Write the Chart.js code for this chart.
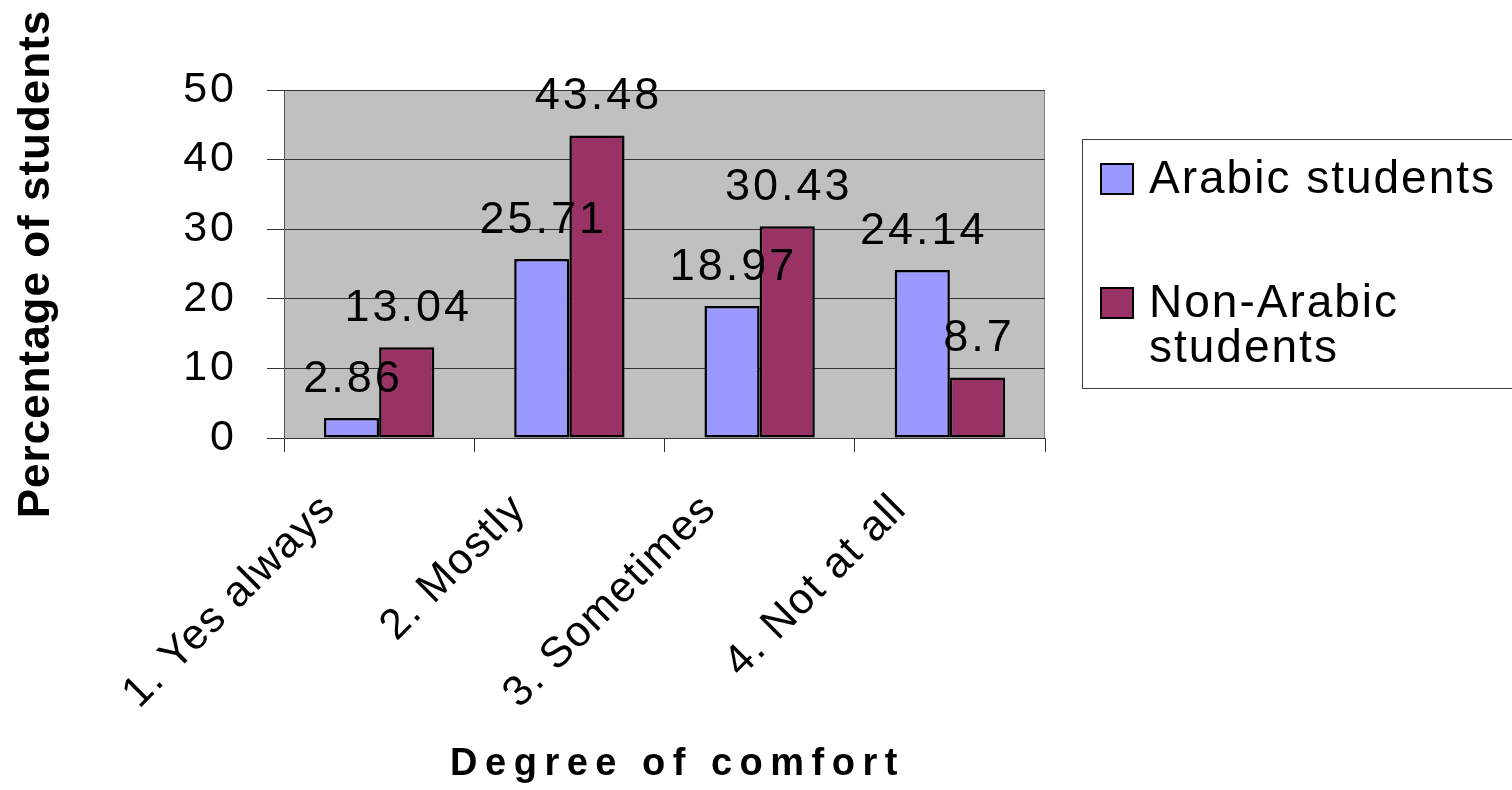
<!DOCTYPE html>
<html>
<head>
<meta charset="utf-8">
<script src="https://cdn.jsdelivr.net/npm/chart.js@4/dist/chart.umd.min.js"></script>
<style>
  html, body { margin: 0; padding: 0; background: #ffffff; }
  #wrap { width: 1512px; height: 790px; position: relative; }
</style>
</head>
<body>
<div id="wrap"><canvas id="chart" width="1512" height="790"></canvas></div>
<script>
// Survey results: degree of comfort, percentage of students per group
const categories = ['1. Yes always', '2. Mostly', '3. Sometimes', '4. Not at all'];
const arabicStudents = [2.86, 25.71, 18.97, 24.14];
const nonArabicStudents = [13.04, 43.48, 30.43, 8.7];
const yTickValues = [0, 10, 20, 30, 40, 50];
const seriesNames = ['Arabic students', 'Non-Arabic students'];
const xAxisTitle = 'Degree of comfort';
const yAxisTitle = 'Percentage of students';

const FONT = '"Liberation Sans", Arial, sans-serif';

// Gray plot area with a thin frame
const plotBackground = {
  id: 'plotBackground',
  beforeDraw(chart) {
    const { ctx, chartArea: a } = chart;
    ctx.letterSpacing = '0px';
    ctx.save();
    ctx.fillStyle = '#c0c0c0';
    ctx.fillRect(a.left, a.top, a.right - a.left, a.bottom - a.top);
    ctx.strokeStyle = '#808080';
    ctx.lineWidth = 1;
    ctx.strokeRect(a.left + 0.5, a.top + 0.5, a.right - a.left - 1, a.bottom - a.top);
    ctx.restore();
  }
};

// Per-axis letter spacing (and a small nudge) for tick labels and titles
const axisSpacing = {
  id: 'axisSpacing',
  beforeDraw(chart) {
    const titleStyle = { x: { spacing: '7.5px', dx: 13 }, y: { spacing: '1px', dx: 0 } };
    const labelStyle = { x: { spacing: '1.5px', dx: 0 }, y: { spacing: '3px', dx: 0 } };
    Object.values(chart.scales).forEach(scale => {
      if (scale.$spaced) return;
      const wrap = (name, table) => {
        const orig = scale[name];
        scale[name] = function () {
          const ctx = this.ctx;
          const style = table[this.id] || { spacing: '0px', dx: 0 };
          const prev = ctx.letterSpacing;
          ctx.save();
          ctx.translate(style.dx, 0);
          ctx.letterSpacing = style.spacing;
          orig.apply(this, arguments);
          ctx.restore();
          ctx.letterSpacing = prev;
        };
      };
      wrap('drawTitle', titleStyle);
      wrap('drawLabels', labelStyle);
      scale.$spaced = true;
    });
  }
};

// Value labels above every bar
const valueLabels = {
  id: 'valueLabels',
  afterDatasetsDraw(chart) {
    const ctx = chart.ctx;
    ctx.save();
    ctx.letterSpacing = '3px';
    ctx.font = '45px ' + FONT;
    ctx.fillStyle = '#000000';
    ctx.textAlign = 'center';
    ctx.textBaseline = 'alphabetic';
    chart.data.datasets.forEach((ds, di) => {
      const meta = chart.getDatasetMeta(di);
      meta.data.forEach((bar, i) => {
        ctx.fillText(String(ds.data[i]), bar.x + 1.5, bar.y - 26);
      });
    });
    ctx.restore();
  }
};

// Boxed legend on the right, with word wrapping
const boxLegend = {
  id: 'boxLegend',
  afterDraw(chart) {
    const ctx = chart.ctx;
    ctx.save();
    ctx.strokeStyle = '#404040';
    ctx.lineWidth = 1;
    ctx.strokeRect(1082.5, 139.5, 520, 249);
    ctx.font = '46px ' + FONT;
    ctx.letterSpacing = '2px';
    ctx.textAlign = 'left';
    ctx.textBaseline = 'alphabetic';
    const maxWidth = 355;
    const lineGap = 45;
    const itemTop = [164, 288];
    chart.data.datasets.forEach((ds, i) => {
      const top = itemTop[i];
      ctx.fillStyle = ds.backgroundColor;
      ctx.fillRect(1101, top, 32, 30);
      ctx.strokeStyle = '#000000';
      ctx.lineWidth = 2;
      ctx.strokeRect(1101, top, 32, 30);
      const words = ds.label.split(' ');
      const lines = [];
      let line = '';
      words.forEach(w => {
        const test = line ? line + ' ' + w : w;
        if (line && ctx.measureText(test).width > maxWidth) {
          lines.push(line);
          line = w;
        } else {
          line = test;
        }
      });
      if (line) lines.push(line);
      ctx.fillStyle = '#000000';
      lines.forEach((l, k) => ctx.fillText(l, 1149, top + 29 + k * lineGap));
    });
    ctx.restore();
  }
};

new Chart(document.getElementById('chart'), {
  type: 'bar',
  data: {
    labels: categories,
    datasets: [
      {
        label: seriesNames[0],
        data: arabicStudents,
        backgroundColor: '#9999ff',
        borderColor: '#000000',
        borderWidth: 2.5,
        borderSkipped: false
      },
      {
        label: seriesNames[1],
        data: nonArabicStudents,
        backgroundColor: '#993366',
        borderColor: '#000000',
        borderWidth: 2.5,
        borderSkipped: false
      }
    ]
  },
  options: {
    responsive: false,
    animation: false,
    devicePixelRatio: 1,
    layout: { padding: { top: 90, right: 467, left: 0, bottom: 0 } },
    datasets: { bar: { categoryPercentage: 0.58, barPercentage: 1.0 } },
    plugins: {
      legend: { display: false },
      tooltip: { enabled: false },
      title: { display: false }
    },
    scales: {
      x: {
        afterFit(scale) { scale.height = 352; },
        grid: {
          offset: true,
          drawOnChartArea: false,
          drawTicks: true,
          tickLength: 14,
          color: '#333333',
          lineWidth: 1
        },
        border: { display: true, color: '#333333', width: 1 },
        ticks: {
          minRotation: 45,
          maxRotation: 45,
          autoSkip: false,
          padding: 32,
          labelOffset: -50,
          color: '#000000',
          font: { family: FONT, size: 43 }
        },
        title: {
          display: true,
          text: xAxisTitle,
          color: '#000000',
          font: { family: FONT, size: 38, weight: 'bold' },
          padding: { top: 0, bottom: 3 }
        }
      },
      y: {
        min: 0,
        max: 50,
        afterFit(scale) { scale.width = 284; },
        afterBuildTicks(scale) { scale.ticks = yTickValues.map(v => ({ value: v })); },
        grid: {
          drawTicks: true,
          tickLength: 17,
          color: '#333333',
          lineWidth: 1
        },
        border: { display: true, color: '#555555', width: 1 },
        ticks: {
          padding: 30,
          color: '#000000',
          font: { family: FONT, size: 43 }
        },
        title: {
          display: true,
          text: yAxisTitle,
          color: '#000000',
          font: { family: FONT, size: 44, weight: 'bold' },
          padding: { top: 10, bottom: 0 }
        }
      }
    }
  },
  plugins: [plotBackground, axisSpacing, valueLabels, boxLegend]
});
</script>
</body>
</html>
